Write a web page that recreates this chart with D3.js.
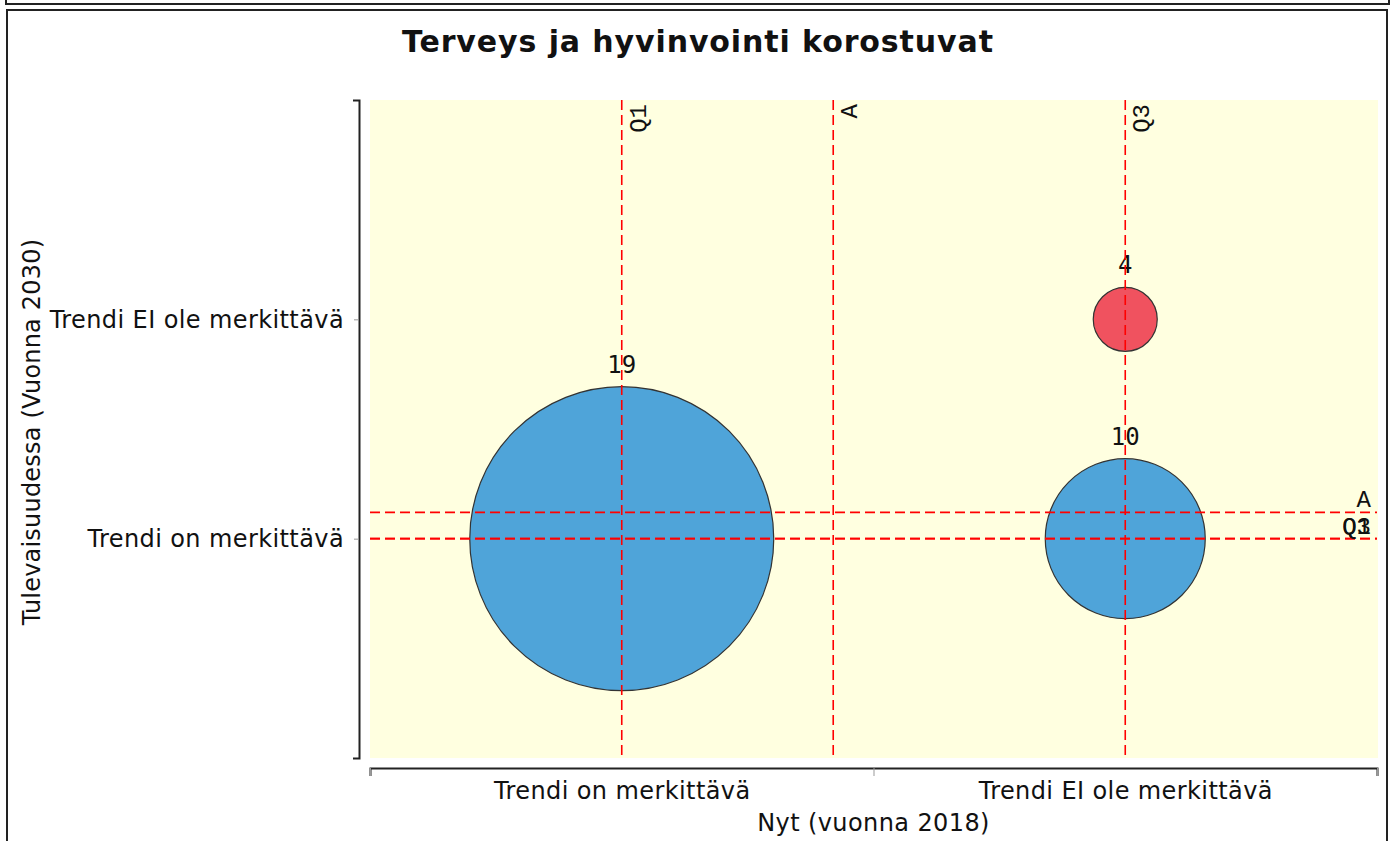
<!DOCTYPE html>
<html>
<head>
<meta charset="utf-8">
<script src="https://cdn.jsdelivr.net/npm/d3@7"></script>
<style>
  body { margin: 0; background: #fff; }
  svg { display: block; }
</style>
</head>
<body>
<div id="chart"></div>
<script>
// Chart data
const xCategories = ["Trendi on merkittävä", "Trendi EI ole merkittävä"];
const yCategories = ["Trendi on merkittävä", "Trendi EI ole merkittävä"];

// Bubbles: position index on each axis (1-based) and count
const bubbleX = [1, 2, 2];
const bubbleY = [1, 1, 2];
const bubbleCount = [19, 10, 4];
const bubbleColor = ["#4fa4d9", "#4fa4d9", "#f0525f"];

// Reference lines (Q1, average, Q3) for both axes
const refXLabels = ["Q1", "A", "Q3"];
const refXValues = [1, 1.42, 2];
const refYLabels = ["A", "Q1", "Q3"];
const refYValues = [1.12, 1, 1];

const title = "Terveys ja hyvinvointi korostuvat";
const xTitle = "Nyt (vuonna 2018)";
const yTitle = "Tulevaisuudessa (Vuonna 2030)";

const width = 1394, height = 841;
const plot = { left: 370, right: 1377, top: 100, bottom: 758 };

const svg = d3.select("#chart").append("svg")
    .attr("width", width)
    .attr("height", height);

svg.append("rect").attr("width", width).attr("height", height).attr("fill", "#fff");

// frames
svg.append("path")
    .attr("d", "M6,0 V4 H1389 V0")
    .attr("fill", "none").attr("stroke", "#222").attr("stroke-width", 2);
svg.append("rect")
    .attr("x", 7).attr("y", 10).attr("width", 1380).attr("height", 840)
    .attr("fill", "none").attr("stroke", "#222").attr("stroke-width", 2);

const x = d3.scaleLinear().domain([0.5, 2.5]).range([plot.left, plot.right]);
const y = d3.scaleLinear().domain([0, 3]).range([plot.bottom, plot.top]);
const r = d3.scaleLinear().domain([0, d3.max(bubbleCount)]).range([0, 152]);

svg.append("rect")
    .attr("x", plot.left).attr("y", plot.top)
    .attr("width", plot.right - plot.left + 1).attr("height", plot.bottom - plot.top)
    .attr("fill", "#ffffe0");

// title
svg.append("text")
    .attr("x", 698).attr("y", 52)
    .attr("text-anchor", "middle")
    .style("font-family", "DejaVu Sans").style("font-weight", "bold").style("font-size", "30px")
    .style("letter-spacing", "0.9px").attr("fill", "#111")
    .text(title);

// y axis
const yAxis = svg.append("g")
    .attr("transform", "translate(359,0)")
    .call(d3.axisLeft(y).tickValues([1, 2]).tickSizeInner(5).tickSizeOuter(6)
        .tickPadding(10).tickFormat(d => yCategories[d - 1]));
yAxis.select(".domain").attr("stroke", "#222").attr("stroke-width", 2);
yAxis.selectAll(".tick line").attr("stroke", "#999");
yAxis.selectAll("text").style("font-family", "DejaVu Sans").style("font-size", "24px")
    .style("letter-spacing", "0.4px").attr("fill", "#111");

// x axis: tick marks at band edges, labels at centres
const xAxisTicks = svg.append("g")
    .attr("transform", `translate(0,${plot.bottom + 10})`)
    .call(d3.axisBottom(x).tickValues([0.5, 1.5, 2.5]).tickSizeInner(8).tickSizeOuter(8).tickFormat(""));
xAxisTicks.select(".domain").attr("stroke", "#222").attr("stroke-width", 2);
xAxisTicks.selectAll(".tick line").attr("stroke", "#999");

const xAxisLabels = svg.append("g")
    .attr("transform", `translate(0,${plot.bottom + 10})`)
    .call(d3.axisBottom(x).tickValues([1, 2]).tickSize(0).tickPadding(14)
        .tickFormat(d => xCategories[d - 1]));
xAxisLabels.select(".domain").remove();
xAxisLabels.selectAll("text").style("font-family", "DejaVu Sans").style("font-size", "24px")
    .style("letter-spacing", "0.4px").attr("fill", "#111");

// axis titles
svg.append("text")
    .attr("x", (plot.left + plot.right) / 2).attr("y", 831)
    .attr("text-anchor", "middle")
    .style("font-family", "DejaVu Sans").style("font-size", "24px")
    .style("letter-spacing", "0.4px").attr("fill", "#111")
    .text(xTitle);
svg.append("text")
    .attr("transform", `translate(40,${(plot.top + plot.bottom) / 2 + 3}) rotate(-90)`)
    .attr("text-anchor", "middle")
    .style("font-family", "DejaVu Sans").style("font-size", "24px")
    .style("letter-spacing", "0.2px").attr("fill", "#111")
    .text(yTitle);

// bubbles
const bubbles = bubbleCount.map((c, i) => ({ x: bubbleX[i], y: bubbleY[i], count: c, color: bubbleColor[i] }));

svg.append("g").selectAll("circle")
    .data(bubbles)
    .join("circle")
    .attr("cx", d => x(d.x))
    .attr("cy", d => y(d.y))
    .attr("r", d => r(d.count))
    .attr("fill", d => d.color)
    .attr("stroke", "#333")
    .attr("stroke-width", 1.2);

svg.append("g").selectAll("text")
    .data(bubbles)
    .join("text")
    .attr("x", d => x(d.x))
    .attr("y", d => y(d.y) - r(d.count) - 14)
    .attr("text-anchor", "middle")
    .style("font-family", "DejaVu Sans Mono").style("font-size", "24px").attr("fill", "#111")
    .text(d => d.count);

// reference lines
const refs = svg.append("g");
refXValues.forEach((v, i) => {
    refs.append("line")
        .attr("x1", x(v)).attr("x2", x(v))
        .attr("y1", plot.top).attr("y2", plot.bottom)
        .attr("stroke", "#ff0000").attr("stroke-width", 1.6).attr("stroke-dasharray", "10,5");
    refs.append("text")
        .attr("transform", `translate(${x(v) + 24},${plot.top + 4}) rotate(-90)`)
        .attr("text-anchor", "end")
        .style("font-family", "Liberation Mono").style("font-size", "24px").attr("fill", "#111")
        .text(refXLabels[i]);
});
refYValues.forEach((v, i) => {
    refs.append("line")
        .attr("x1", plot.left).attr("x2", plot.right)
        .attr("y1", y(v)).attr("y2", y(v))
        .attr("stroke", "#ff0000").attr("stroke-width", 1.6).attr("stroke-dasharray", "10,5");
    refs.append("text")
        .attr("x", plot.right - 6).attr("y", y(v) - 5)
        .attr("text-anchor", "end")
        .style("font-family", "Liberation Mono").style("font-size", "24px").attr("fill", "#111")
        .text(refYLabels[i]);
});
</script>
</body>
</html>
